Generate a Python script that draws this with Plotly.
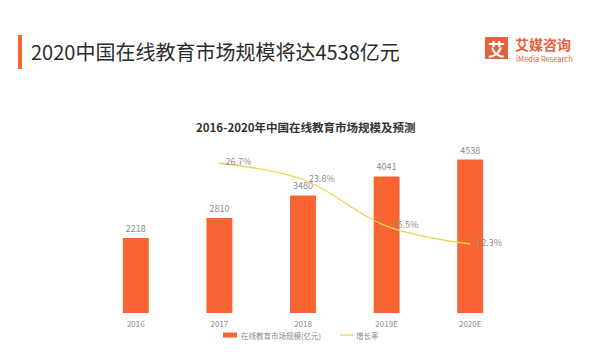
import plotly.graph_objects as go

years = ["2016", "2017", "2018", "2019E", "2020E"]
market = [2218, 2810, 3480, 4041, 4538]
growth = [None, 26.7, 23.8, 15.5, 12.3]
growth_labels = ["", "26.7%", "23.8%", "15.5%", "12.3%"]

title_text = "2020中国在线教育市场规模将达4538亿元"
chart_title = "2016-2020年中国在线教育市场规模及预测"
bar_name = "在线教育市场规模(亿元)"
line_name = "增长率"

ORANGE = "#F96532"
YELLOW = "#EFD254"
GRAY = "#8C8C8C"
FONT = "Noto Sans CJK SC"

# page has an 8px body margin; work in page pixel coords
OFF = 8
W, H = 608 - OFF, 362 - OFF
PL, PR, PT, PB = 94, 512, 144, 313  # plot area in page px


def px(x):
    return (x - PL) / (PR - PL)


def py(y):
    return (PB - y) / (PB - PT)


fig = go.Figure()
fig.add_trace(go.Bar(
    x=years, y=market, name=bar_name, width=0.31,
    marker=dict(color=ORANGE, line=dict(width=0)),
    text=[str(v) for v in market], textposition="outside",
    textfont=dict(size=9, color=GRAY, family=FONT), cliponaxis=False,
    showlegend=False,
))
fig.add_trace(go.Scatter(
    x=years, y=growth, name=line_name, yaxis="y2", mode="lines+markers+text",
    line=dict(color=YELLOW, width=1.3, shape="spline", smoothing=1.0),
    marker=dict(size=8, color="rgba(0,0,0,0)", line=dict(width=0)),
    text=growth_labels, textposition="middle right",
    textfont=dict(size=9, color=GRAY, family=FONT), cliponaxis=False,
    connectgaps=False, showlegend=False,
))

fig.update_layout(
    width=W, height=H,
    margin=dict(l=PL - OFF, r=W - (PR - OFF), t=PT - OFF, b=H - (PB - OFF), autoexpand=False),
    paper_bgcolor="white", plot_bgcolor="white",
    font=dict(family=FONT, color=GRAY, size=9),
    showlegend=False,
    xaxis=dict(type="category", showgrid=False, showline=False, ticks="",
               automargin=False, ticklabelstandoff=5,
               tickfont=dict(size=8, color=GRAY, family=FONT)),
    yaxis=dict(range=[0, 5000], visible=False, showgrid=False),
    yaxis2=dict(range=[0, 30.13], visible=False, overlaying="y", side="right", showgrid=False),
    bargap=0.69,
)

# Manual legend
fig.add_shape(type="rect", xref="paper", yref="paper",
              x0=px(223), x1=px(237), y0=py(337.5), y1=py(332.5),
              fillcolor=ORANGE, line=dict(width=0))
fig.add_annotation(xref="paper", yref="paper", x=px(239), y=py(335),
                   xanchor="left", yanchor="middle", showarrow=False,
                   text=bar_name, font=dict(size=7.5, color=GRAY, family=FONT))
fig.add_shape(type="line", xref="paper", yref="paper",
              x0=px(340), x1=px(353), y0=py(335), y1=py(335),
              line=dict(color=YELLOW, width=1.3))
fig.add_annotation(xref="paper", yref="paper", x=px(354), y=py(335),
                   xanchor="left", yanchor="middle", showarrow=False,
                   text=line_name, font=dict(size=7.5, color=GRAY, family=FONT))

# Header title and accent bar
fig.add_shape(type="rect", xref="paper", yref="paper",
              x0=px(18), x1=px(22), y0=py(69), y1=py(35),
              fillcolor=ORANGE, line=dict(width=0))
fig.add_annotation(xref="paper", yref="paper", x=px(29), y=py(51),
                   xanchor="left", yanchor="middle", showarrow=False,
                   text=title_text, font=dict(size=20, color="#2B2B2B", family=FONT))

# Logo
fig.add_shape(type="rect", xref="paper", yref="paper",
              x0=px(485), x1=px(508), y0=py(59), y1=py(37),
              fillcolor="#E8613C", line=dict(width=0))
fig.add_annotation(xref="paper", yref="paper", x=px(496.5), y=py(48),
                   xanchor="center", yanchor="middle", showarrow=False,
                   text="<b>艾</b>", font=dict(size=17, color="white", family=FONT))
fig.add_annotation(xref="paper", yref="paper", x=px(513), y=py(44),
                   xanchor="left", yanchor="middle", showarrow=False,
                   text="<b>艾媒咨询</b>", font=dict(size=14, color="#E8613C", family=FONT))
fig.add_annotation(xref="paper", yref="paper", x=px(514), y=py(58.5),
                   xanchor="left", yanchor="middle", showarrow=False,
                   text="iMedia Research", font=dict(size=7.5, color="#E8613C", family=FONT))

# Chart title
fig.add_annotation(xref="paper", yref="paper", x=px(306), y=py(127),
                   xanchor="center", yanchor="middle", showarrow=False,
                   text="<b>" + chart_title + "</b>",
                   font=dict(size=11.5, color="#333333", family=FONT))

fig.write_html("out.html")
